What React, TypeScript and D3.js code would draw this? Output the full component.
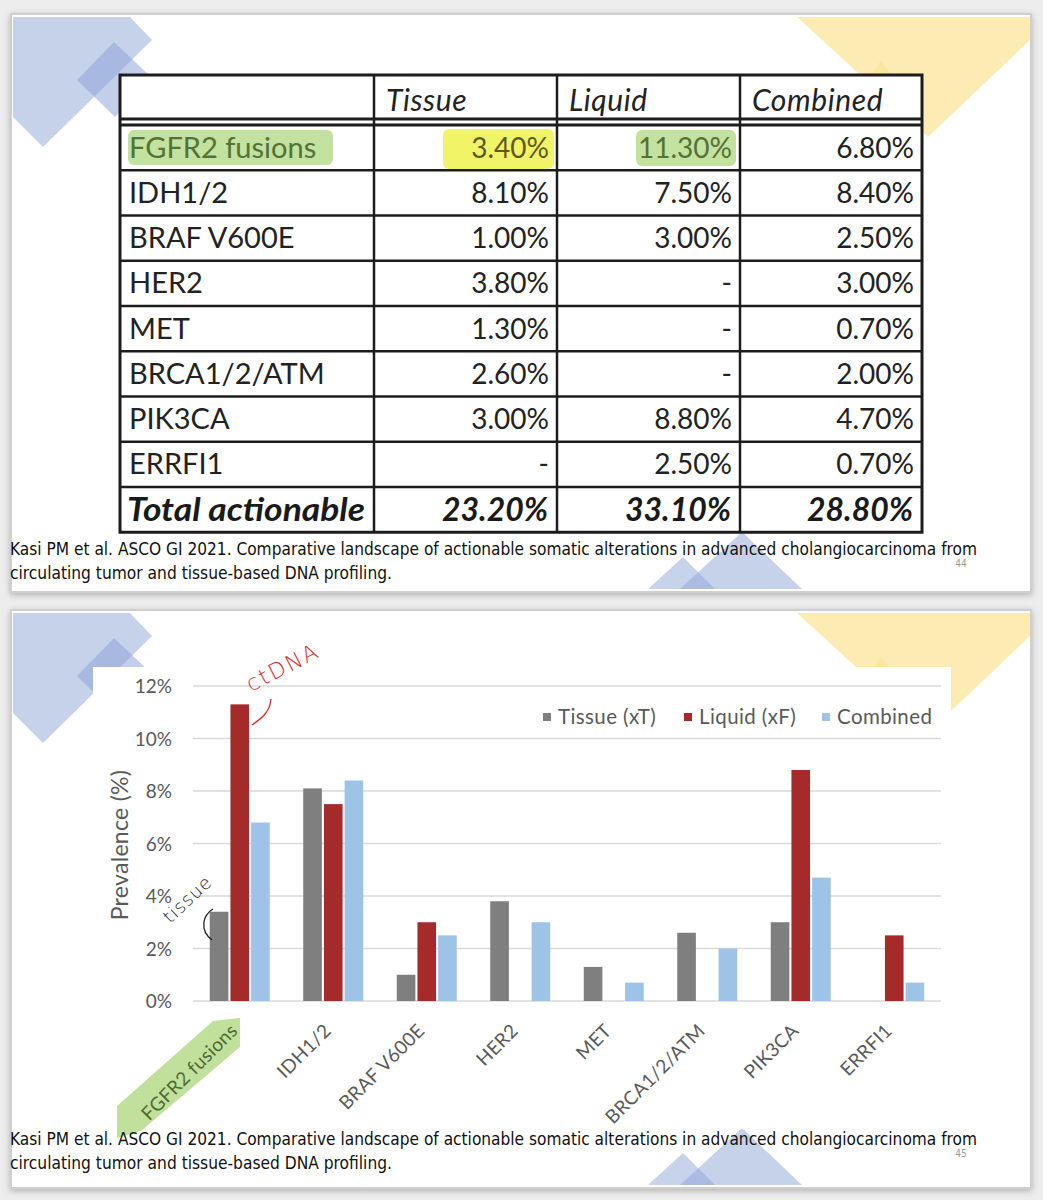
import React from "react";
import * as d3 from "d3";

const categories = ["FGFR2 fusions", "IDH1/2", "BRAF V600E", "HER2", "MET", "BRCA1/2/ATM", "PIK3CA", "ERRFI1"];
const tissue: (number | null)[] = [3.4, 8.1, 1.0, 3.8, 1.3, 2.6, 3.0, null];
const liquid: (number | null)[] = [11.3, 7.5, 3.0, null, null, null, 8.8, 2.5];
const combined: (number | null)[] = [6.8, 8.4, 2.5, 3.0, 0.7, 2.0, 4.7, 0.7];
const totals = ["23.20%", "33.10%", "28.80%"];
const headers = ["Tissue", "Liquid", "Combined"];
const seriesNames = ["Tissue (xT)", "Liquid (xF)", "Combined"];
const yTicks = [0, 2, 4, 6, 8, 10, 12];
const caption1 = "Kasi PM et al. ASCO GI 2021.  Comparative landscape of actionable somatic alterations in advanced cholangiocarcinoma from";
const caption2 = "circulating tumor and tissue-based DNA profiling.";

const COLORS = ["#7f7f7f", "#a52a2a", "#9dc3e6"];
const TABLE_FONT = "Lato, 'Open Sans', sans-serif";
const CAP_FONT = "'Liberation Sans Narrow', 'DejaVu Sans Condensed', 'Liberation Sans', sans-serif";
const HAND_FONT = "'DejaVu Sans', sans-serif";

const fmt = (v: number | null) => (v == null ? "-" : v.toFixed(2) + "%");

function Decor({ dy }: { dy: number }) {
  const blue = "#c3cfe9";
  const yellow = "#fcecb4";
  return (
    <g transform={`translate(0,${dy})`}>
      <polygon points="13,17 130,17 152,40 43,147 13,117" fill={blue} opacity={0.95} />
      <polygon points="114,42 150,76 115,117 77,80" fill="#8fa6d8" opacity={0.55} />
      <polygon points="797,17 1030,17 1030,40 928,137" fill={yellow} />
      <polygon points="881,60 915,110 850,110" fill="#f8dc7c" opacity={0.35} />
      <polygon points="742,532 802,589 680,589" fill={blue} opacity={0.95} />
      <polygon points="683,557 715,589 648,589" fill="#8fa6d8" opacity={0.5} />
    </g>
  );
}

function Card({ y }: { y: number }) {
  return <rect x={11} y={y} width={1020} height={578} fill="#fff" stroke="#cfcfcf" strokeWidth={2} filter="url(#shadow)" />;
}

function Caption({ dy, page }: { dy: number; page: string }) {
  return (
    <g transform={`translate(0,${dy})`} fontFamily={CAP_FONT} fill="#111" fontSize={17}>
      <text x={10} y={555} textLength={967} lengthAdjust="spacingAndGlyphs">{caption1}</text>
      <text x={10} y={579} textLength={382} lengthAdjust="spacingAndGlyphs">{caption2}</text>
      <text x={961} y={567} fontSize={10} fill="#999" textAnchor="middle">{page}</text>
    </g>
  );
}

function Table() {
  const colX = [120, 374, 557, 740, 922];
  const top = 75;
  const rowTop = 125;
  const rowH = 45.25;
  const rows = categories.map((c, i) => [c, fmt(tissue[i]), fmt(liquid[i]), fmt(combined[i])]);
  const bottom = rowTop + rowH * 9;
  const stroke = "#1c1c1c";
  const totalY = rowTop + 8.5 * rowH + 11;
  return (
    <g fontFamily={TABLE_FONT}>
      <rect x={colX[0]} y={top} width={colX[4] - colX[0]} height={bottom - top} fill="#fff" />
      {/* highlights */}
      <rect x={128} y={130} width={205} height={35} rx={6} fill="#b8dc8e" opacity={0.85} />
      <rect x={443} y={129} width={111} height={40} rx={6} fill="#f0f24c" opacity={0.85} />
      <rect x={636} y={130} width={100} height={36} rx={6} fill="#b8dc8e" opacity={0.85} />
      <rect x={colX[0]} y={top} width={colX[4] - colX[0]} height={bottom - top} fill="none" stroke={stroke} strokeWidth={3} />
      <line x1={colX[0]} x2={colX[4]} y1={119} y2={119} stroke={stroke} strokeWidth={3} />
      <line x1={colX[0]} x2={colX[4]} y1={125} y2={125} stroke={stroke} strokeWidth={3} />
      {d3.range(1, 9).map((i) => (
        <line key={i} x1={colX[0]} x2={colX[4]} y1={rowTop + i * rowH} y2={rowTop + i * rowH} stroke={stroke} strokeWidth={2.5} />
      ))}
      {colX.slice(1, 4).map((x, i) => (
        <line key={i} x1={x} x2={x} y1={top} y2={bottom} stroke={stroke} strokeWidth={2.5} />
      ))}
      {headers.map((h, i) => (
        <text key={h} x={colX[i + 1] + 12} y={111} fontSize={30} fontStyle="italic" fill="#222" letterSpacing={0.6}>{h}</text>
      ))}
      {rows.map((r, i) => {
        const yb = rowTop + (i + 0.5) * rowH + 10;
        return (
          <g key={i}>
            <text x={129} y={yb} fontSize={29} fill={i === 0 ? "#557236" : "#222"}>{r[0]}</text>
            {[1, 2, 3].map((j) => (
              <text key={j} x={colX[j + 1] - 8} y={yb} fontSize={28} textAnchor="end"
                fill={i === 0 && j === 1 ? "#5e5a1e" : i === 0 && j === 2 ? "#557236" : "#222"}>{r[j]}</text>
            ))}
          </g>
        );
      })}
      <g fontWeight="bold" fontStyle="italic" fontSize={32} fill="#1a1a1a">
        <text x={127} y={totalY} textLength={238} lengthAdjust="spacingAndGlyphs">Total actionable</text>
        {totals.map((t, j) => (
          <text key={j} x={colX[j + 2] - 106 - 9} y={totalY} textLength={106} lengthAdjust="spacingAndGlyphs">{t}</text>
        ))}
      </g>
    </g>
  );
}

function Chart() {
  const x0 = d3.scaleBand<string>().domain(categories).range([193, 941]);
  const x1 = d3.scaleBand<number>().domain([0, 1, 2]).range([16.75, 76.75]).paddingInner(0.1);
  const y = d3.scaleLinear().domain([0, 12]).range([1001, 686]);
  const series = [tissue, liquid, combined];
  const gray = "#595959";
  const legendX = [543, 684, 822];
  return (
    <g fontFamily={TABLE_FONT}>
      {yTicks.map((t) => (
        <g key={t}>
          <line x1={193} x2={941} y1={y(t)} y2={y(t)} stroke="#d9d9d9" strokeWidth={1.5} />
          <text x={172} y={y(t) + 7} textAnchor="end" fontSize={19} fill={gray}>{t}%</text>
        </g>
      ))}
      <text transform={`translate(128,845) rotate(-90)`} textAnchor="middle" fontSize={23} fill={gray} letterSpacing={0.3}>Prevalence (%)</text>
      {series.map((s, si) =>
        s.map((v, ci) =>
          v == null ? null : (
            <rect key={`${si}-${ci}`} x={(x0(categories[ci]) as number) + (x1(si) as number)} y={y(v)}
              width={x1.bandwidth()} height={y(0) - y(v)} fill={COLORS[si]} />
          )
        )
      )}
      {seriesNames.map((n, i) => (
        <g key={n}>
          <rect x={legendX[i]} y={713} width={8} height={8} fill={COLORS[i]} />
          <text x={legendX[i] + 15} y={724} fontSize={20.5} fill={gray} letterSpacing={0.4}>{n}</text>
        </g>
      ))}
      {/* highlighter behind first label */}
      <polygon points="117,1106 213,1021 240,1018 240,1047 141,1131 117,1138" fill="#b5da8a" opacity={0.85} />
      {categories.map((c, i) => {
        const cx = (x0(c) as number) + x0.bandwidth() / 2;
        return (
          <text key={c} transform={`translate(${cx - 1},${1032}) rotate(-45)`} textAnchor="end" fontSize={19}
            fill={i === 0 ? "#4f6b35" : gray} letterSpacing={0.3}>{c}</text>
        );
      })}
      {/* handwritten annotations */}
      <text transform="translate(251,692) rotate(-27)" fontFamily={HAND_FONT} fontWeight={200} fontSize={22} fill="#d42a2a" letterSpacing={2}>ctDNA</text>
      <path d="M271,699 C270,712 262,718 252,725" fill="none" stroke="#d42a2a" strokeWidth={1.3} />
      <text transform="translate(170,924) rotate(-43)" fontFamily={HAND_FONT} fontWeight={200} fontSize={18} fill="#222" letterSpacing={1}>tissue</text>
      <path d="M213,909 C203,915 199,930 212,940" fill="none" stroke="#222" strokeWidth={1.3} />
    </g>
  );
}

export default function App() {
  return (
    <div style={{ position: "absolute", left: 0, top: 0 }}>
      <svg width={1043} height={1200} viewBox="0 0 1043 1200" style={{ display: "block" }}>
        <defs>
          <filter id="shadow" x="-5%" y="-5%" width="110%" height="110%">
            <feDropShadow dx={0} dy={2} stdDeviation={3} floodColor="#000" floodOpacity={0.25} />
          </filter>
        </defs>
        <rect width={1043} height={1200} fill="#ededed" />
        <Card y={14} />
        <Card y={610} />
        <Decor dy={0} />
        <Decor dy={596} />
        <rect x={93} y={667} width={858} height={462} fill="#fff" />
        <Table />
        <Caption dy={0} page="44" />
        <Chart />
        <Caption dy={590} page="45" />
      </svg>
    </div>
  );
}
